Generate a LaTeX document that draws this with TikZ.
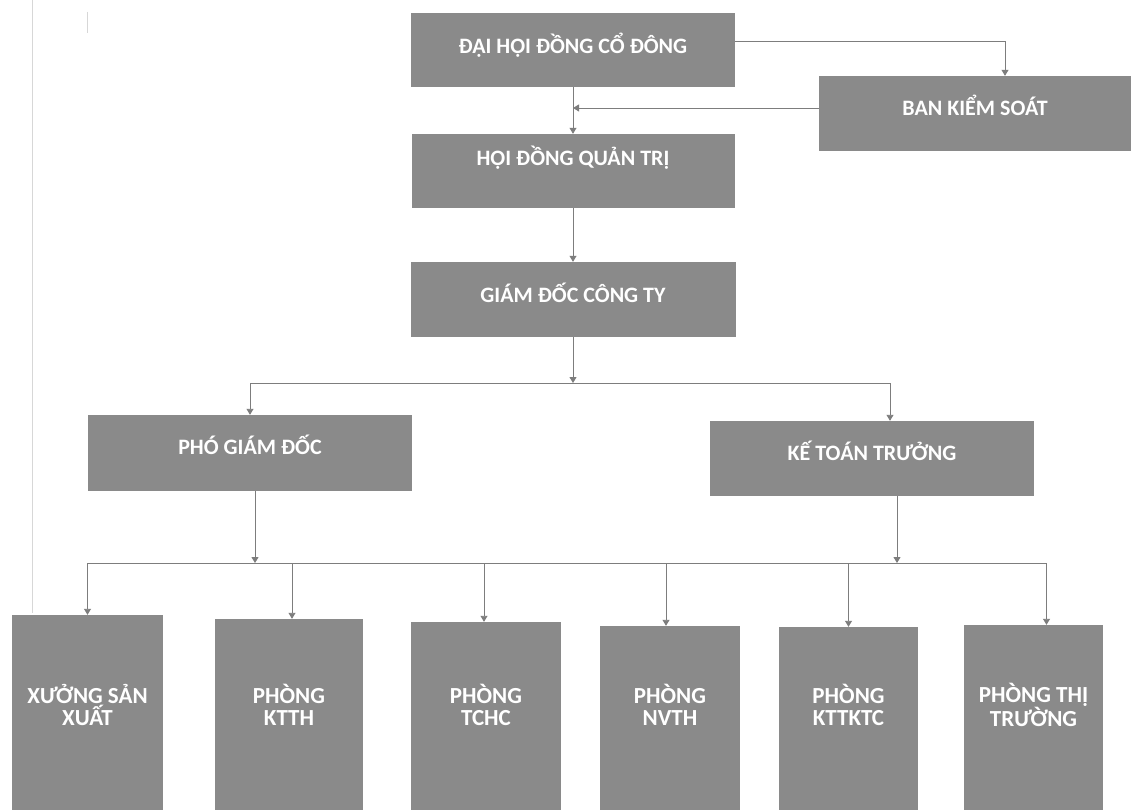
\documentclass[tikz,border=0pt]{standalone}
\usepackage{fontspec}
\setmainfont{Carlito}
\usetikzlibrary{arrows.meta}
\definecolor{boxgray}{RGB}{138,138,138}
\definecolor{linegray}{RGB}{125,125,125}
\definecolor{faintgray}{RGB}{215,215,215}
\tikzset{
  box/.style={draw=none, fill=boxgray, inner sep=0pt, rectangle},
  lbl/.style={text=white, font=\fontsize{22}{24}\selectfont\bfseries, align=center, inner sep=0pt},
  blbl/.style={text=white, font=\fontsize{23}{22}\selectfont\bfseries, align=center, inner sep=0pt},
  line/.style={draw=linegray, line width=0.9pt},
  conn/.style={line, -{Triangle[length=6pt,width=7pt]}, color=linegray},
  faint/.style={draw=faintgray, line width=0.8pt}
}
\begin{document}
\begin{tikzpicture}[x=1pt,y=-1pt]
\useasboundingbox[fill=white] (0,0) rectangle (1135,810);

% scan marks
\draw[faint] (32,0) -- (32,613);
\draw[faint] (87,12) -- (87,33);

% top boxes
\node[box, minimum width=324pt, minimum height=74pt,
  label={[lbl, yshift=5pt]center:ĐẠI HỘI ĐỒNG CỔ ĐÔNG}] (dhd) at (573,50) {};
\node[box, minimum width=312pt, minimum height=75pt,
  label={[lbl, yshift=8pt]center:BAN KIỂM SOÁT}] (bks) at (975,113.5) {};
\node[box, minimum width=323pt, minimum height=74pt,
  label={[lbl, yshift=13pt]center:HỘI ĐỒNG QUẢN TRỊ}] (hdqt) at (573,171) {};
\node[box, minimum width=325pt, minimum height=75pt,
  label={[lbl, yshift=7pt]center:GIÁM ĐỐC CÔNG TY}] (gd) at (573,299.5) {};
\node[box, minimum width=324pt, minimum height=76pt,
  label={[lbl, yshift=8pt]center:PHÓ GIÁM ĐỐC}] (pgd) at (250,453) {};
\node[box, minimum width=324pt, minimum height=75pt,
  label={[lbl, yshift=8pt]center:KẾ TOÁN TRƯỞNG}] (ktt) at (872,458.5) {};

% bottom boxes
\node[box, minimum width=151pt, minimum height=195pt,
  label={[blbl, yshift=7.5pt]center:XƯỞNG SẢN\\XUẤT}] (b1) at (87.5,712.5) {};
\node[box, minimum width=148pt, minimum height=191pt,
  label={[blbl, yshift=9.5pt]center:PHÒNG\\KTTH}] (b2) at (289,714.5) {};
\node[box, minimum width=150pt, minimum height=188pt,
  label={[blbl, yshift=11pt]center:PHÒNG\\TCHC}] (b3) at (486,716) {};
\node[box, minimum width=140pt, minimum height=184pt,
  label={[blbl, yshift=13pt]center:PHÒNG\\NVTH}] (b4) at (670,718) {};
\node[box, minimum width=139pt, minimum height=183pt,
  label={[blbl, yshift=13.5pt]center:PHÒNG\\KTTKTC}] (b5) at (848.5,718.5) {};
\node[box, minimum width=139pt, minimum height=185pt,
  label={[blbl, yshift=12.5pt]center:PHÒNG THỊ\\TRƯỜNG}] (b6) at (1033.5,717.5) {};

% junction coordinates
\coordinate (j1) at (573,108);
\coordinate (j2) at (573,383);
\coordinate (j3) at (255,563);
\coordinate (j4) at (897,563);

% connectors top
\draw[conn] ([yshift=9pt]dhd.east) -| ([xshift=30pt]bks.north);
\draw[conn] ([yshift=5.5pt]bks.west) -- (j1);
\draw[conn] (dhd.south) -- (hdqt.north);
\draw[conn] (hdqt.south) -- (gd.north);
\draw[conn] (gd.south) -- (j2);
\draw[line] (pgd.north |- j2) -- ([xshift=18pt]ktt.north |- j2);
\draw[conn] (pgd.north |- j2) -- (pgd.north);
\draw[conn] ([xshift=18pt]ktt.north |- j2) -- ([xshift=18pt]ktt.north);

% connectors bottom
\draw[conn] ([xshift=5pt]pgd.south) -- (j3);
\draw[conn] ([xshift=25pt]ktt.south) -- (j4);
\draw[line] (b1.north |- j3) -- ([xshift=13pt]b6.north |- j3);
\draw[conn] (b1.north |- j3) -- (b1.north);
\draw[conn] ([xshift=3pt]b2.north |- j3) -- ([xshift=3pt]b2.north);
\draw[conn] ([xshift=-2pt]b3.north |- j3) -- ([xshift=-2pt]b3.north);
\draw[conn] ([xshift=-4pt]b4.north |- j3) -- ([xshift=-4pt]b4.north);
\draw[conn] (b5.north |- j3) -- (b5.north);
\draw[conn] ([xshift=13pt]b6.north |- j3) -- ([xshift=13pt]b6.north);
\end{tikzpicture}
\end{document}
